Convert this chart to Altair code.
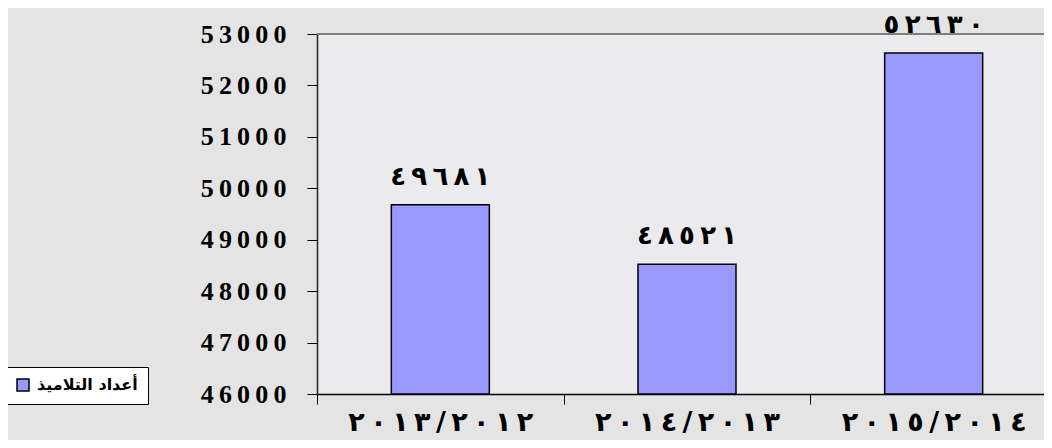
import altair as alt
import pandas as pd

# ---- data ----
years = ["٢٠١٣/٢٠١٢", "٢٠١٤/٢٠١٣", "٢٠١٥/٢٠١٤"]
students = [49681, 48521, 52630]
series_name = "أعداد التلاميذ"
y_ticks = [46000, 47000, 48000, 49000, 50000, 51000, 52000, 53000]
top_line = [53000]

AR = str.maketrans("0123456789", "٠١٢٣٤٥٦٧٨٩")
SEP = "\u200e\u2009\u200e"


def spaced(s):
    return "\u200e" + SEP.join(s) + "\u200e"


df = pd.DataFrame({
    "year": [spaced(y) for y in years],
    "students": students,
    "label": [spaced(str(v).translate(AR)) for v in students],
    "series": [series_name] * len(years),
})

x_enc = alt.X(
    "year:N", sort=None,
    scale=alt.Scale(paddingInner=0, paddingOuter=0, range=[0, 740]),
    axis=alt.Axis(
        title=None, labelAngle=0, tickBand="extent", tickSize=10,
        tickColor="black", domainColor="black", domainWidth=1.5,
        labelFont="DejaVu Sans", labelFontWeight="bold", labelFontSize=27,
        labelColor="black", labelPadding=5, labelLimit=0, grid=False,
    ),
)
y_enc = alt.Y(
    "students:Q",
    scale=alt.Scale(domain=[46000, 53000], nice=False, zero=False),
    axis=alt.Axis(
        title=None, values=y_ticks, format="d", tickSize=10, tickColor="black",
        domainColor="#222222", domainWidth=1.5, labelPadding=21,
        labelFont="Liberation Serif", labelFontSize=26, labelFontWeight="bold",
        labelColor="black", grid=False,
        labelExpr="join(split(datum.label, ''), '\u2009')",
    ),
)

bars = alt.Chart(df).mark_bar(
    size=98, stroke="black", strokeWidth=1.5, clip=True
).encode(
    x=x_enc,
    y=y_enc,
    y2=alt.datum(46000),
    color=alt.Color(
        "series:N",
        scale=alt.Scale(range=["#9999ff"]),
        legend=alt.Legend(
            orient="none", legendX=-312, legendY=333, title=None,
            symbolType="square", symbolSize=144, symbolStrokeColor="black",
            symbolStrokeWidth=1.5, labelFont="DejaVu Sans", labelFontWeight="bold",
            labelFontSize=16, labelColor="black", labelOffset=6,
            fillColor="white", strokeColor="black", padding=10,
        ),
    ),
)

labels = alt.Chart(df).mark_text(
    baseline="bottom", dy=-15, font="DejaVu Sans", fontWeight="bold",
    fontSize=26, color="black",
).encode(x=x_enc, y=y_enc, text="label:N")

top = alt.Chart(pd.DataFrame({"v": top_line})).mark_rule(
    color="#808080", strokeWidth=2
).encode(y=alt.Y("v:Q"))

chart = (
    alt.layer(bars, labels, top)
    .properties(
        width=727, height=360, autosize="none",
        padding={"left": 309, "top": 26, "right": 0, "bottom": 46},
        background="#e4e4e4",
    )
    .configure_view(fill="#ebebed", stroke=None)
)

chart.save("out.html", embed_options={"renderer": "svg", "actions": False})
